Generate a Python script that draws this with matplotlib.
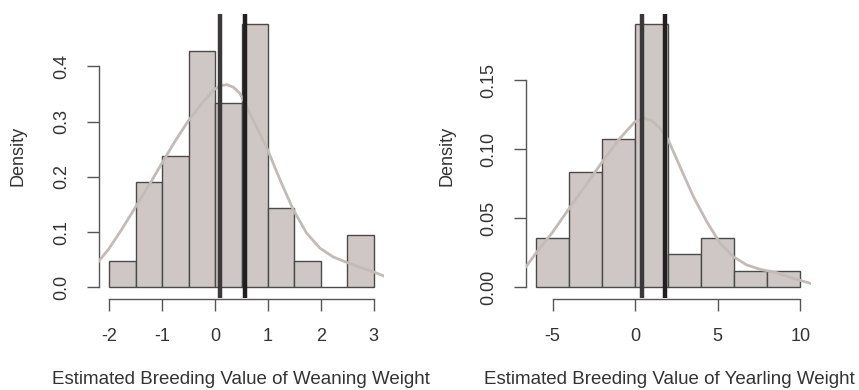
import numpy as np
import matplotlib
matplotlib.use("Agg")
import matplotlib.pyplot as plt

plt.rcParams['font.family'] = ['Liberation Sans', 'DejaVu Sans']

# ---- Data: left panel (weaning weight) ----
wean_edges = [-2.0, -1.5, -1.0, -0.5, 0.0, 0.5, 1.0, 1.5, 2.0, 2.5, 3.0]
wean_density = [1/21, 4/21, 5/21, 9/21, 7/21, 10/21, 3/21, 1/21, 0.0, 2/21]
wean_vlines = [0.10, 0.57]
wean_kde_x = [-2.21, -2.02, -1.77, -1.50, -1.23, -1.01, -0.76, -0.51, -0.25, -0.02,
              0.10, 0.22, 0.35, 0.47, 0.72, 0.98, 1.23, 1.48, 1.73, 1.98,
              2.23, 2.49, 2.74, 2.99, 3.20]
wean_kde_y = [0.046, 0.068, 0.104, 0.146, 0.188, 0.224, 0.264, 0.301, 0.333, 0.358,
              0.365, 0.367, 0.362, 0.351, 0.303, 0.252, 0.194, 0.140, 0.098, 0.071,
              0.055, 0.045, 0.036, 0.028, 0.020]
wean_xticks = [-2, -1, 0, 1, 2, 3]
wean_yticks = [0.0, 0.1, 0.2, 0.3, 0.4]
wean_yticklabels = ["0.0", "0.1", "0.2", "0.3", "0.4"]
wean_xlabel = "Estimated Breeding Value of Weaning Weight"

# ---- Data: right panel (yearling weight) ----
year_edges = [-6, -4, -2, 0, 2, 4, 6, 8, 10]
year_density = [3/84, 7/84, 9/84, 16/84, 2/84, 3/84, 1/84, 1/84]
year_vlines = [0.41, 1.79]
year_kde_x = [-6.64, -5.87, -5.06, -3.95, -3.04, -2.13, -1.02, -0.01, 0.55, 1.0,
              1.5, 2.0, 2.71, 3.52, 4.33, 5.14, 5.94, 6.75, 7.56, 8.57, 9.58, 10.64]
year_kde_y = [0.0145, 0.027, 0.039, 0.058, 0.073, 0.0886, 0.1067, 0.120, 0.1225, 0.1207,
              0.1152, 0.1067, 0.0874, 0.0657, 0.0476, 0.0319, 0.0222, 0.0162, 0.013,
              0.0106, 0.0065, 0.0027]
year_xticks = [-5, 0, 5, 10]
year_yticks = [0.00, 0.05, 0.10, 0.15]
year_yticklabels = ["0.00", "0.05", "0.10", "0.15"]
year_xlabel = "Estimated Breeding Value of Yearling Weight"

BAR_FC = "#cec7c5"
BAR_EC = "#4a4a4a"
KDE_C = "#c2bbb8"
AX_C = "#555555"
TXT_C = "#333333"
FS = 13

W, H = 859, 390
fig = plt.figure(figsize=(W / 100, H / 100), dpi=100)


def px_axes(x0, x1, y0, y1):
    # pixel coords (top-left origin) -> figure fractions
    return [x0 / W, (H - y1) / H, (x1 - x0) / W, (y1 - y0) / H]


def panel(rect, edges, dens, kde_x, kde_y, vlines, xticks, yticks, yticklabels,
          xlabel, ylabel_x, xlabel_x):
    ax = fig.add_axes(rect)
    lefts = edges[:-1]
    widths = np.diff(edges)
    ax.bar(lefts, dens, width=widths, align='edge', color=BAR_FC,
           edgecolor=BAR_EC, linewidth=1.0, zorder=2)
    ax.plot(kde_x, kde_y, color=KDE_C, lw=2.0, zorder=3, solid_capstyle='round')
    vcols = ["#3c3839", "#231f20"]
    for v, c in zip(vlines, vcols):
        ax.axvline(v, color=c, lw=3.2, zorder=4)
    xr = edges[-1] - edges[0]
    ymax = max(dens)
    ax.set_xlim(edges[0] - 0.04 * xr, edges[-1] + 0.04 * xr)
    ax.set_ylim(-0.04 * ymax, 1.04 * ymax)
    for s in ['top', 'right']:
        ax.spines[s].set_visible(False)
    ax.spines['bottom'].set_bounds(xticks[0], xticks[-1])
    ax.spines['left'].set_bounds(yticks[0], yticks[-1])
    ax.spines['bottom'].set_position(('outward', 1))
    for s in ['bottom', 'left']:
        ax.spines[s].set_color(AX_C)
        ax.spines[s].set_linewidth(1.0)
    ax.set_xticks(xticks)
    ax.set_xticklabels([str(t) for t in xticks])
    ax.set_yticks(yticks)
    ax.set_yticklabels(yticklabels, rotation=90, va='center')
    ax.tick_params(axis='both', length=8.5, width=1.0, color=AX_C,
                   labelsize=FS, labelcolor=TXT_C, pad=12)
    ax.patch.set_visible(False)
    fig.text(ylabel_x / W, 1 - 156 / H, "Density", rotation=90, ha='center',
             va='center', fontsize=FS, color=TXT_C)
    fig.text(xlabel_x / W, 1 - 379 / H, xlabel, ha='center', va='center',
             fontsize=FS + 0.5, color=TXT_C)
    return ax


panel(px_axes(98.7, 384.4, 13.8, 297.8), wean_edges, wean_density, wean_kde_x,
      wean_kde_y, wean_vlines, wean_xticks, wean_yticks, wean_yticklabels,
      wean_xlabel, 18, 241)
panel(px_axes(525.6, 810.9, 13.8, 297.8), year_edges, year_density, year_kde_x,
      year_kde_y, year_vlines, year_xticks, year_yticks, year_yticklabels,
      year_xlabel, 447, 669)

fig.savefig("out.png", dpi=100, facecolor="white")
